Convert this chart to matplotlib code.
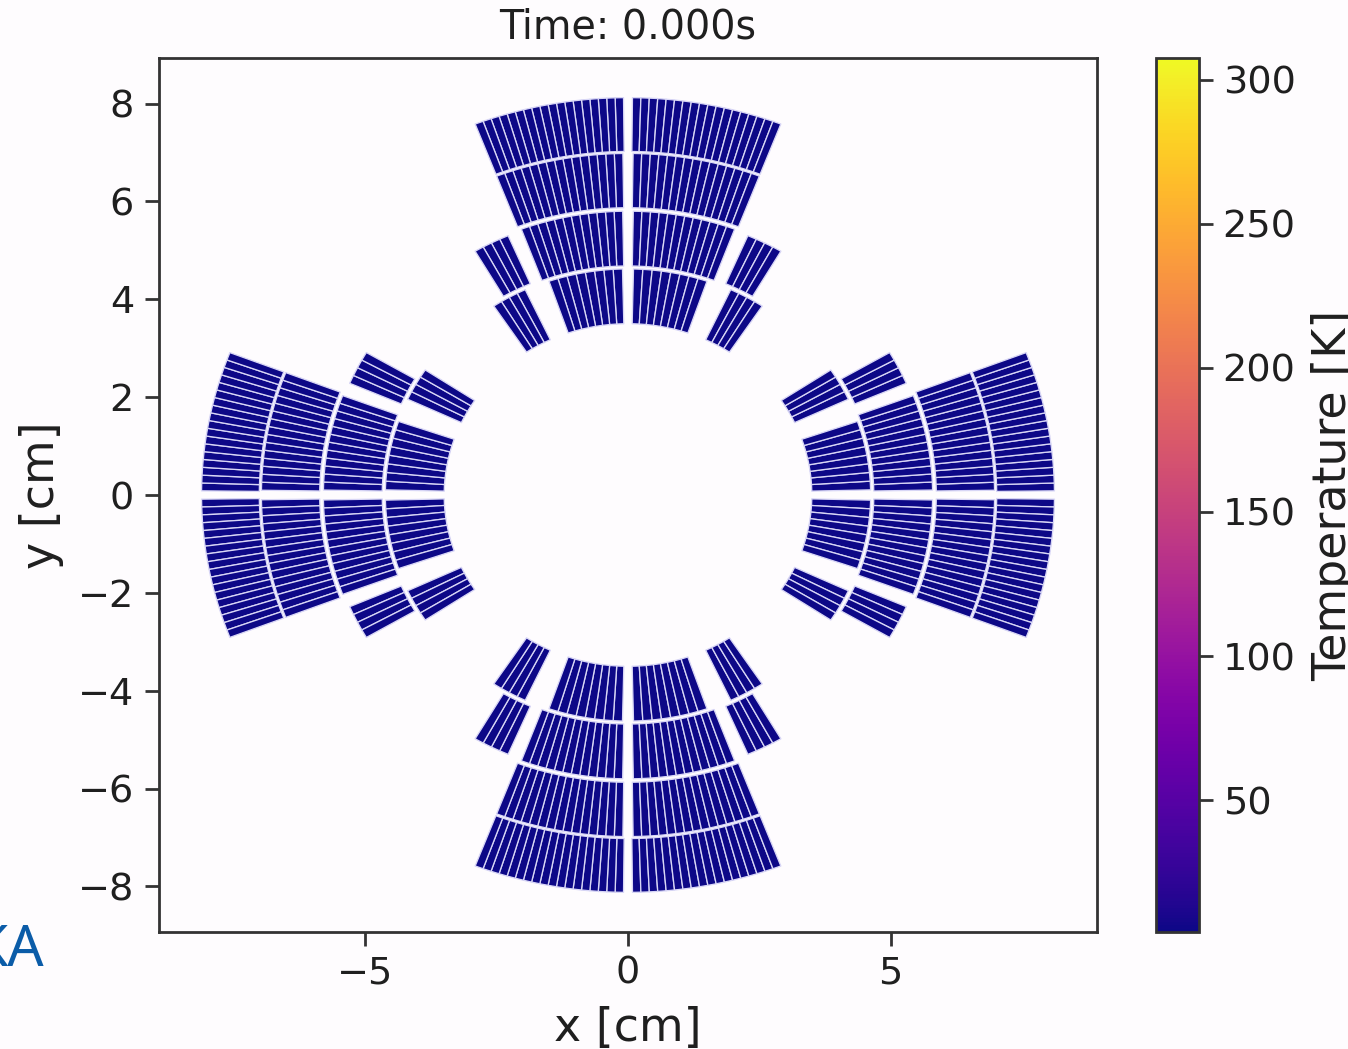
#!/usr/bin/python3
import numpy as np
import matplotlib
matplotlib.use('Agg')
import matplotlib.pyplot as plt
from matplotlib.patches import Wedge
from matplotlib.collections import PatchCollection
from matplotlib.cm import ScalarMappable
from matplotlib.colors import Normalize

# Coil blocks of one half pole, angles in deg away from the pole axis
r_in = [3.50, 4.68, 5.87, 7.02, 4.70, 3.50]
r_out = [4.62, 5.80, 6.98, 8.12, 5.77, 4.63]
ang_start = [1.3, 1.0, 0.8, 0.6, 23.3, 25.0]
ang_end = [19.0, 20.5, 21.0, 21.0, 30.3, 33.5]
n_strands = [8, 12, 15, 18, 4, 4]
pole_axes = [0, 90, 180, 270]

# Temperature at t=0, same in all strands
T_start = 4.5
T_min = 4.2
T_max = 307.6
cbar_ticks = [50, 100, 150, 200, 250, 300]
x_ticks = [-5, 0, 5]
y_ticks = [-8, -6, -4, -2, 0, 2, 4, 6, 8]
lim = 8.93

W, H = 1348, 1049
bg = '#fefcfe'
ink = '#1f1f1f'

fig = plt.figure(figsize=(W/100, H/100), dpi=100, facecolor=bg)
ax = fig.add_axes([159/W, 1-932/H, 938/W, 874/H], facecolor=bg)
cax = fig.add_axes([1156/W, 1-932/H, 43/W, 874/H])

# Build all the strands as wedges
patches = []
for axis in pole_axes:
    for side in [1, -1]:
        for i in range(len(r_in)):
            edges = np.linspace(ang_start[i], ang_end[i], n_strands[i]+1)
            for j in range(n_strands[i]):
                a = axis+side*edges[j]
                b = axis+side*edges[j+1]
                patches.append(Wedge((0, 0), r_out[i], min(a, b), max(a, b),
                                     width=r_out[i]-r_in[i]))

norm = Normalize(T_min, T_max)
pc = PatchCollection(patches, cmap='plasma', norm=norm, edgecolor='#d8d6f6', linewidth=0.95)
pc.set_array(np.full(len(patches), T_start))
ax.add_collection(pc)

ax.set_xlim(-lim, lim)
ax.set_ylim(-lim, lim)
ax.set_xticks(x_ticks)
ax.set_yticks(y_ticks)
ax.set_xlabel('x [cm]', fontsize=33, labelpad=10, color=ink)
ax.set_ylabel('y [cm]', fontsize=33, labelpad=10, color=ink)
ax.set_title('Time: 0.000s', fontsize=28.5, pad=14, color=ink)
ax.tick_params(axis='x', labelsize=27.5, width=2.0, length=10, pad=7, labelcolor=ink, color='#333333')
ax.tick_params(axis='y', labelsize=27.5, width=2.0, length=10, pad=8, labelcolor=ink, color='#333333')
for s in ax.spines.values():
    s.set_linewidth(2.0)
    s.set_color('#333333')

cb = fig.colorbar(ScalarMappable(norm=norm, cmap='plasma'), cax=cax)
cb.set_ticks(cbar_ticks)
cb.ax.tick_params(labelsize=27.5, width=2.0, length=10, pad=7, labelcolor=ink, color='#333333')
cb.outline.set_linewidth(2.0)
cb.outline.set_edgecolor('#333333')
cb.set_label('Temperature [K]', fontsize=33, labelpad=11, color=ink)

# Logo text cut off by the left edge of the image
fig.text(44/W, 1-966/H, 'KA', fontsize=41, family='Noto Sans', color='#0b5ca8', ha='right', va='baseline')

fig.savefig('out.png', dpi=100, facecolor=bg)
